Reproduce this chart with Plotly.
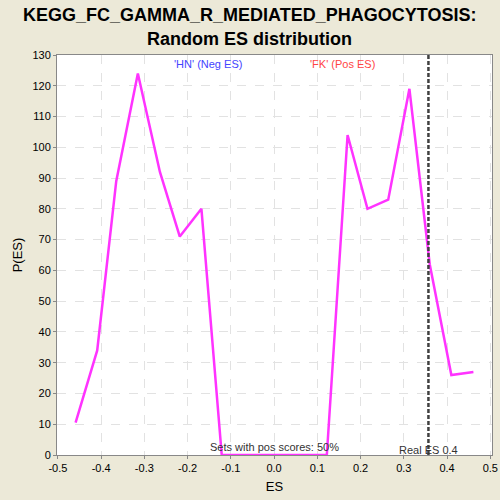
import plotly.graph_objects as go

# random ES distribution
es = [-0.459, -0.409, -0.365, -0.315, -0.264, -0.218, -0.168, -0.121,
      -0.07, -0.02, 0.03, 0.075, 0.122, 0.170, 0.216, 0.264, 0.313, 0.360, 0.410, 0.461]
p_es = [10.5, 34, 89, 124, 92, 71, 80, 0,
        0, 0, 0, 0, 0, 104, 80, 83, 119, 62, 26, 27]
real_es = 0.357
x_ticks = [-0.5, -0.4, -0.3, -0.2, -0.1, 0.0, 0.1, 0.2, 0.3, 0.4, 0.5]
x_labels = ["-0.5", "-0.4", "-0.3", "-0.2", "-0.1", "0.0", "0.1", "0.2", "0.3", "0.4", "0.5"]

fig = go.Figure()
fig.add_trace(go.Scatter(x=es, y=p_es, mode="lines",
                         line=dict(color="#FF33FF", width=2.5),
                         showlegend=False, hoverinfo="skip"))

# vertical line for the real ES
fig.add_shape(type="line", x0=real_es, x1=real_es, y0=0, y1=1, yref="paper",
              line=dict(color="#404040", width=2.5, dash="4px,2px"))

fig.add_annotation(x=real_es, y=0, yref="y", text="Real ES 0.4", showarrow=False,
                   yanchor="bottom", yshift=-3, font=dict(size=11, color="#333333"))
fig.add_annotation(x=0.0, y=0, yref="y", text="Sets with pos scores: 50%", showarrow=False,
                   yanchor="bottom", yshift=0, font=dict(size=11, color="#333333"))
fig.add_annotation(x=-0.153, y=1, yref="paper", text="'HN' (Neg ES)", showarrow=False,
                   yanchor="top", yshift=-1, font=dict(size=11, color="#4444FF"))
fig.add_annotation(x=0.159, y=1, yref="paper", text="'FK' (Pos ES)", showarrow=False,
                   yanchor="top", yshift=-1, font=dict(size=11, color="#FF4444"))

# two-line title placed as annotations
fig.add_annotation(x=0.443, xref="paper", y=1.1, yref="paper", showarrow=False,
                   text="<b>KEGG_FC_GAMMA_R_MEDIATED_PHAGOCYTOSIS:</b>",
                   yanchor="middle", font=dict(size=18, color="black"))
fig.add_annotation(x=0.443, xref="paper", y=1.041, yref="paper", showarrow=False,
                   text="<b>Random ES distribution</b>",
                   yanchor="middle", font=dict(size=18, color="black"))

fig.update_layout(
    width=500, height=500,
    paper_bgcolor="#ECE9D8", plot_bgcolor="white",
    margin=dict(l=57, r=8, t=55, b=45),
    font=dict(family="Liberation Sans, Arial", size=11, color="black"),
)
fig.update_xaxes(range=[-0.502, 0.504], tickvals=x_ticks, ticktext=x_labels,
                 showgrid=True, gridcolor="#E2E2E2", griddash="dash",
                 showline=True, linecolor="#888888", linewidth=1, mirror=True,
                 ticks="outside", ticklen=3, tickcolor="#888888", zeroline=False,
                 automargin=False,
                 title=dict(text="ES", font=dict(size=13), standoff=8))
fig.update_yaxes(range=[0, 130], dtick=10,
                 showgrid=True, gridcolor="#E2E2E2", griddash="dash",
                 showline=True, linecolor="#888888", linewidth=1, mirror=True,
                 ticks="outside", ticklen=3, tickcolor="#888888", zeroline=False,
                 automargin=False,
                 title=dict(text="P(ES)", font=dict(size=13), standoff=6))

# drop the browser's default body margin so the 500px figure fills the window
fig.write_html("out.html", config={"displayModeBar": False},
               post_script="document.body.style.margin='0px';")
